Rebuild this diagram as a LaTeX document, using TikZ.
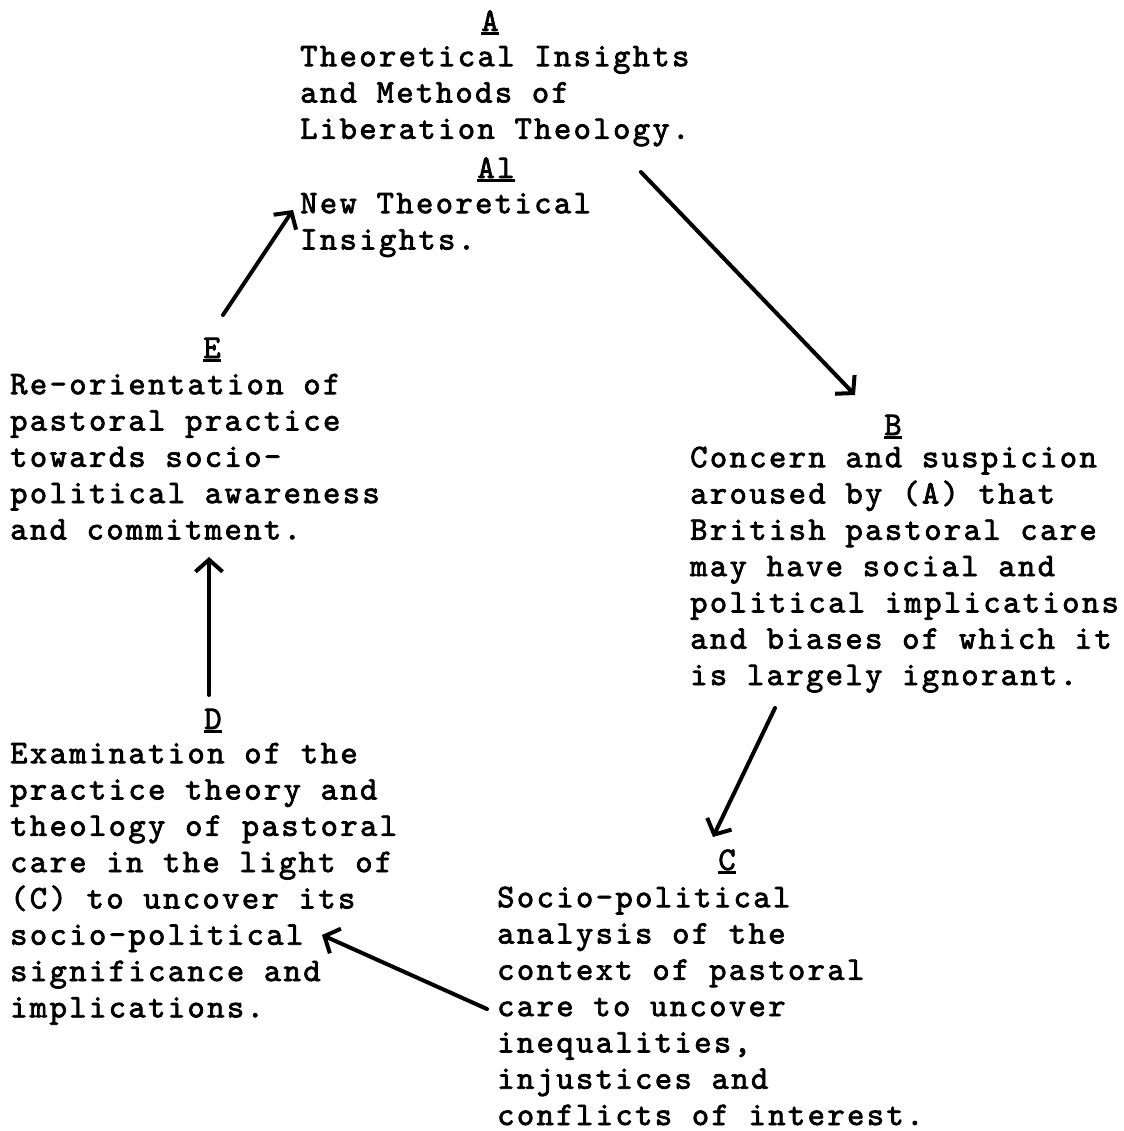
\documentclass[tikz,border=0pt]{standalone}
\usepackage{fontspec}
\usetikzlibrary{arrows.meta}
\newfontfamily\typewriter[LetterSpace=7.2,FakeBold=2.2]{lmmono10-regular.otf}
\newcommand{\hdline}[1]{\setbox0\hbox{#1}\rlap{\rule[-4pt]{\wd0}{2.8pt}}\box0}

\begin{document}
\begin{tikzpicture}[x=1pt,y=-1pt,>={Straight Barb[length=12pt,width=27pt]}]

    \tikzstyle{commonNode}=[inner sep=0pt, font=\typewriter\fontsize{33}{36.3}\selectfont]
    \tikzstyle{heading}=[commonNode, anchor=base]
    \tikzstyle{stage}=[commonNode, align=left, anchor=north west]
    \tikzstyle{flow}=[->, line width=4pt, line cap=round]

    \useasboundingbox (0,0) rectangle (1123,1131);

    % Headings
    \node at (490,31)  [heading] (Ahd)  {\hdline{A}};
    \node at (496,178) [heading] (A1hd) {\hdline{Al}};
    \node at (212,358) [heading] (Ehd)  {\hdline{E}};
    \node at (893,435) [heading] (Bhd)  {\hdline{B}};
    \node at (213,729) [heading] (Dhd)  {\hdline{D}};
    \node at (727,870) [heading] (Chd)  {\hdline{C}};

    % Stages
    \node at (300,40.6)  [stage] (A)  {\strut Theoretical Insights\\and Methods of\\Liberation Theology.};
    \node at (300,187.6) [stage] (A1) {\strut New Theoretical\\Insights.};
    \node at (10,368.6)  [stage] (E)  {\strut Re-orientation of\\pastoral practice\\towards socio-\\political awareness\\and commitment.};
    \node at (690,441.6) [stage] (B)  {\strut Concern and suspicion\\aroused by (A) that\\British pastoral care\\may have social and\\political implications\\and biases of which it\\is largely ignorant.};
    \node at (10,737.6)  [stage] (D)  {\strut Examination of the\\practice theory and\\theology of pastoral\\care in the light of\\(C) to uncover its\\socio-political\\significance and\\implications.};
    \node at (497,881.6) [stage] (C)  {\strut Socio-political\\analysis of the\\context of pastoral\\care to uncover\\inequalities,\\injustices and\\conflicts of interest.};

    % Arrows
    \draw[flow] ([shift={(-48.8,131.4)}]A.north east) -- ([shift={(-38,-40)}]Bhd.base);
    \draw[flow] ([shift={(85,266.4)}]B.north west) -- ([shift={(-14,-33)}]Chd.base);
    \draw[flow] ([shift={(-10,127.4)}]C.north west) -- ([shift={(312,197.4)}]D.north west);
    \draw[flow] ([shift={(-4,-34)}]Dhd.base) -- ([shift={(199,188.4)}]E.north west);
    \draw[flow] ([shift={(11,-43)}]Ehd.base) -- ([shift={(-7,22.4)}]A1.north west);

\end{tikzpicture}
\end{document}
